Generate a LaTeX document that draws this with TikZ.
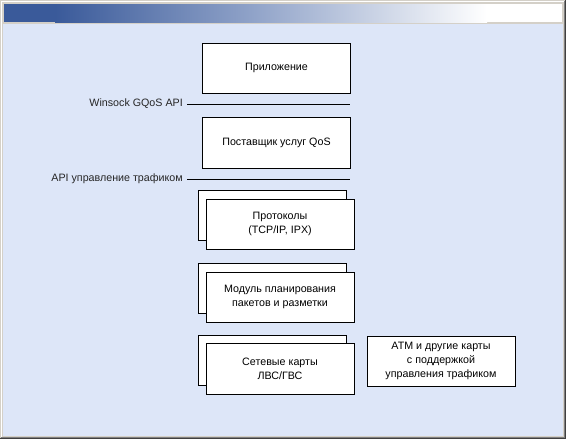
\documentclass[tikz,border=0pt]{standalone}
\usepackage{fontspec}
\setmainfont{Liberation Sans}
\definecolor{frame}{HTML}{D4D0C8}
\definecolor{darkframe}{HTML}{404040}
\definecolor{midframe}{HTML}{808080}
\definecolor{bg}{HTML}{DDE6F8}
\definecolor{titleblue}{HTML}{3A5A9A}
\definecolor{titlemid}{HTML}{8FA2C8}
\tikzset{
  blk/.style={draw=black, fill=white, line width=1pt, minimum width=148pt, minimum height=50pt, inner sep=0pt, align=center, font=\fontsize{10.7}{14}\selectfont},
  apilabel/.style={anchor=east, inner sep=0pt, font=\fontsize{10.7}{12}\selectfont, text=black!85},
  apiline/.style={draw=black, line width=1pt}
}
\begin{document}
\begin{tikzpicture}[x=1pt,y=-1pt]
\useasboundingbox (0,0) rectangle (566,439);
% window frame
\fill[frame] (0,0) rectangle (566,439);
\fill[darkframe] (565,0) rectangle (566,439);
\fill[darkframe] (0,438) rectangle (566,439);
\fill[midframe] (564,1) rectangle (565,438);
\fill[midframe] (1,437) rectangle (565,438);
\fill[white] (1,1) rectangle (564,2);
\fill[white] (1,1) rectangle (2,437);
% content background
\fill[bg] (3,24) rectangle (563,436);
% title bar
\fill[titleblue] (4,4) rectangle (55,22);
\shade[left color=titleblue, right color=titlemid] (55,4) rectangle (250,22);
\shade[left color=titlemid, right color=white] (250,4) rectangle (487,22);
\fill[white] (487,4) rectangle (562,22);

% stacked back boxes
\node[blk] (protoback) at (272,215) {};
\node[blk] (modback) at (272,288) {};
\node[blk] (netback) at (272,360) {};

% main blocks
\node[blk] (app) at (276.5,68) {Приложение};
\node[blk, minimum height=51pt] (qos) at (276.5,142.5) {Поставщик услуг QoS};
\node[blk] (proto) at (280,224) {Протоколы\\(TCP/IP, IPX)};
\node[blk] (mod) at (280,297) {Модуль планирования\\пакетов и разметки};
\node[blk, minimum height=51pt] (net) at (280,368.5) {Сетевые карты\\ЛВС/ГВС};
\node[blk] (atm) at (441,361) {ATM и другие карты\\с поддержкой\\управления трафиком};

% API lines
\coordinate (w1) at (187,104);
\coordinate (w2) at (350,104);
\coordinate (t1) at (187,179);
\coordinate (t2) at (350,179);
\draw[apiline] (w1) -- (w2);
\draw[apiline] (t1) -- (t2);
\node[apilabel] (winsock) at (183,104) {Winsock GQoS API};
\node[apilabel] (traffic) at (183,179) {API управление трафиком};
\end{tikzpicture}
\end{document}
